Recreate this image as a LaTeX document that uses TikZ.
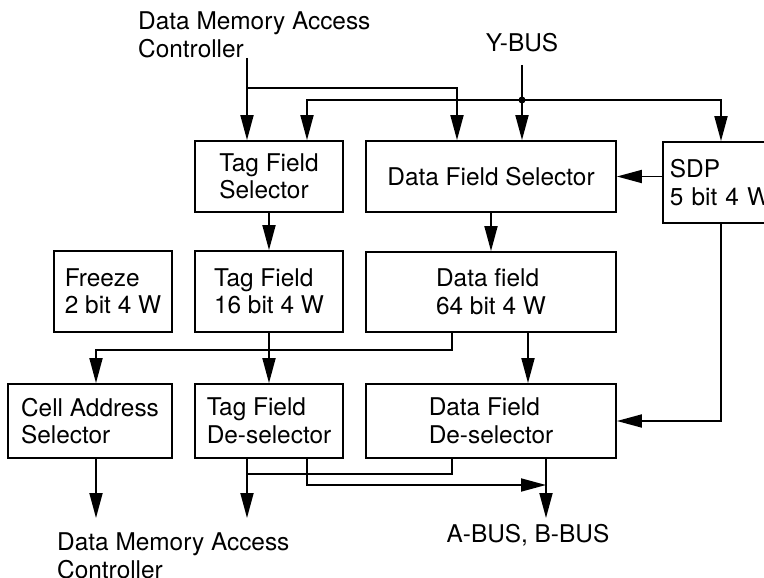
\documentclass[tikz,border=0pt]{standalone}
\usepackage{fontspec}
\setmainfont{TeX Gyre Heros}
\usetikzlibrary{arrows.meta}

\begin{document}
\begin{tikzpicture}[x=1pt, y=-1pt,
  >={Triangle[length=25pt,width=13pt]},
  every node/.style={font=\fontsize{24.4}{27.5}\selectfont},
  unit/.style={draw, line width=1.8pt, align=left, inner sep=0pt},
  wire/.style={line width=1.8pt}]
  \useasboundingbox (0,0) rectangle (764,578);

  % the blocks, row by row
  \node[unit, minimum width=148pt, minimum height=71pt] (tagsel) at (269,176.5) {Tag Field\\Selector};
  \node[unit, minimum width=250pt, minimum height=71pt] (datasel) at (491,176.5) {Data Field Selector};
  % SDP runs off the right edge
  \node[unit, anchor=west, minimum height=81pt, text width=126pt, inner xsep=7pt]
    (sdp) at (662,182.5) {SDP\\5 bit 4 W};

  \node[unit, minimum width=118pt, minimum height=81pt] (freeze) at (113,291.5) {Freeze\\2 bit 4 W};
  \node[unit, minimum width=148pt, minimum height=81pt] (tagfld) at (269,291.5) {Tag Field\\16 bit 4 W};
  \node[unit, minimum width=250pt, minimum height=80pt] (datafld) at (491,292) {Data field\\64 bit 4 W};

  \node[unit, minimum width=164pt, minimum height=74pt] (cellsel) at (90,421) {Cell Address\\Selector};
  \node[unit, minimum width=148pt, minimum height=74pt] (tagdesel) at (269,421) {Tag Field\\De-selector};
  \node[unit, minimum width=250pt, minimum height=74pt] (datadesel) at (491,421) {Data Field\\De-selector};

  % outside texts
  \node[anchor=west, align=left, inner sep=0pt] (dmacin) at (138,35) {Data Memory Access\\Controller};
  \node[inner sep=0pt] (ybus) at (522,43) {Y-BUS};
  \node[inner sep=0pt] (abus) at (528,535) {A-BUS, B-BUS};
  \node[anchor=west, align=left, inner sep=0pt] (dmacout) at (57,556) {Data Memory Access\\Controller};

  \coordinate (dmactap) at (247,58);
  \coordinate (ytap) at (522,65);
  \coordinate (yjoin) at (522,100);
  \coordinate (split) at (96,350);
  \coordinate (cellout) at (96,518);
  \coordinate (tagout) at (247,518);
  \coordinate (busout) at (546,518);

  % inputs at the top
  \draw[wire,->] (dmactap) -- (dmactap |- tagsel.north);
  \draw[wire,->] (dmactap |- 0,88) -| (457,0 |- datasel.north);
  \draw[wire,->] (ytap) -- (ytap |- datasel.north);
  \draw[wire,<->] (307,0 |- tagsel.north) |- (yjoin) -| (721,0 |- sdp.north);
  \fill (yjoin) circle (3.5pt);
  \draw[wire,->] (sdp.west |- datasel.east) -- (datasel.east);

  % selectors to fields
  \draw[wire,->] (tagsel.south) -- (tagfld.north);
  \draw[wire,->] (datasel.south) -- (datafld.north);

  % fields to de-selectors
  \draw[wire,->] (tagfld.south) -- (tagdesel.north);
  \draw[wire,->] (528,0 |- datafld.south) -- (528,0 |- datadesel.north);
  \draw[wire,->] (452,0 |- datafld.south) |- (split) -- (split |- cellsel.north);
  \draw[wire,->] (721,0 |- sdp.south) |- (datadesel.east);

  % outputs at the bottom
  \draw[wire,->] (split |- cellsel.south) -- (cellout);
  \draw[wire,->] (tagout |- tagdesel.south) -- (tagout);
  \draw[wire] (452,0 |- datadesel.south) |- (247,474);
  \draw[wire,->] (307,0 |- tagdesel.south) |- (546,485);
  \draw[wire,->] (busout |- datadesel.south) -- (busout);
\end{tikzpicture}
\end{document}
